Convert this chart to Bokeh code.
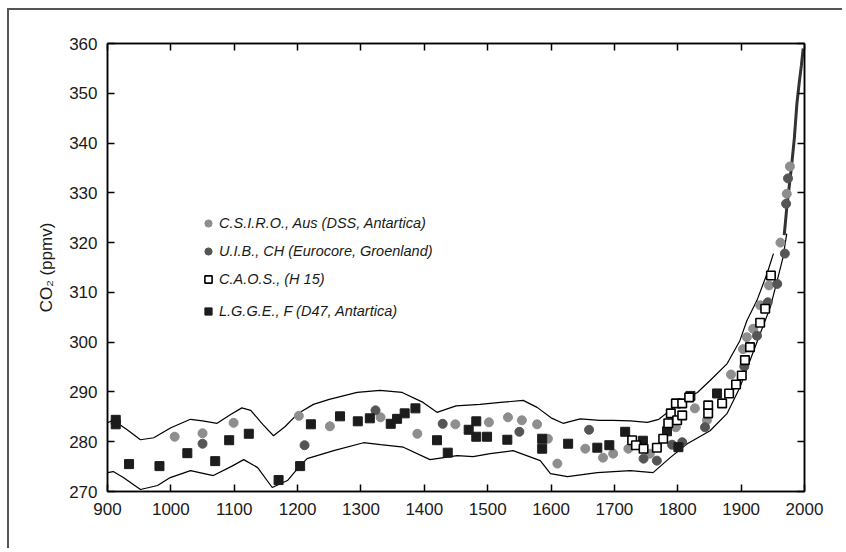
from bokeh.plotting import figure
from bokeh.models import LinearAxis, Range1d, FixedTicker, Legend, LegendItem
from bokeh.embed import file_html
from bokeh.resources import INLINE

# ---------------- data ----------------
upper_years = [900, 909, 930, 952, 973, 1000, 1031, 1050, 1073, 1095, 1112, 1126, 1145, 1162, 1180,
               1200, 1225, 1250, 1294, 1330, 1365, 1398, 1420, 1450, 1488, 1520, 1556, 1578, 1600,
               1619, 1646, 1677, 1698, 1725, 1752, 1770, 1788, 1800, 1831, 1851, 1878, 1898, 1909,
               1925, 1941, 1951]
upper_vals = [283.8, 284.3, 282.5, 280.4, 280.8, 282.8, 284.5, 284.2, 283.7, 285.5, 286.8, 286.3, 283.5,
              281.2, 283.0, 285.6, 287.5, 288.5, 289.9, 290.3, 289.9, 287.9, 285.9, 287.2, 287.5, 287.9,
              288.3, 286.9, 284.8, 283.7, 284.6, 284.3, 284.3, 284.2, 283.9, 284.5, 286.3, 287.7, 289.9,
              292.3, 295.7, 300.3, 304.3, 308.4, 313.8, 317.8]

lower_years = [900, 909, 925, 952, 979, 999, 1031, 1067, 1095, 1115, 1137, 1160, 1184, 1204, 1215,
               1257, 1304, 1331, 1367, 1409, 1452, 1477, 1504, 1540, 1583, 1599, 1626, 1673, 1725,
               1761, 1788, 1815, 1851, 1878, 1898, 1914, 1930, 1946, 1957, 1966, 1972]
lower_vals = [273.8, 274.0, 272.8, 270.4, 271.2, 272.8, 274.2, 273.2, 275.0, 276.4, 274.8, 270.8, 272.2,
              275.2, 276.6, 278.2, 279.8, 279.4, 278.9, 276.4, 277.2, 277.0, 277.6, 278.2, 276.2, 273.6,
              273.0, 273.8, 274.2, 273.8, 276.8, 279.6, 282.2, 285.7, 290.9, 296.3, 301.7, 307.0, 312.4,
              317.0, 321.8]

recent_years = [1968, 1972, 1977, 1980, 1984, 1988, 1992, 1995, 1998]
recent_vals = [321.5, 327.0, 332.5, 335.9, 341.0, 347.9, 352.5, 355.5, 359.0]

csiro_years = [1006, 1050, 1099, 1202, 1251, 1331, 1389, 1449, 1502, 1532, 1554, 1578, 1595, 1610,
               1654, 1682, 1698, 1722, 1756, 1797, 1827, 1846, 1884, 1903, 1909, 1919, 1930, 1944,
               1962, 1972, 1977]
csiro_vals = [281.0, 281.7, 283.8, 285.2, 283.1, 284.9, 281.6, 283.5, 283.9, 284.9, 284.3, 283.5, 280.6,
              275.6, 278.6, 276.8, 277.6, 278.6, 277.6, 282.9, 286.7, 284.3, 293.5, 298.6, 301.0, 302.7,
              307.4, 311.4, 320.0, 329.8, 335.3]

uib_years = [1050, 1211, 1323, 1429, 1550, 1660, 1746, 1767, 1791, 1807, 1843, 1905, 1925, 1942,
             1957, 1969, 1971, 1974]
uib_vals = [279.6, 279.3, 286.3, 283.6, 282.0, 282.4, 276.6, 276.2, 279.4, 279.9, 282.9, 295.1, 301.3,
            308.0, 311.7, 317.8, 327.8, 332.9]

caos_years = [1728, 1734, 1746, 1767, 1777, 1785, 1789, 1797, 1799, 1807, 1807, 1818, 1848, 1848,
              1870, 1881, 1892, 1901, 1906, 1914, 1930, 1938, 1947]
caos_vals = [280.3, 279.3, 278.6, 278.8, 280.6, 283.7, 285.7, 287.7, 284.3, 287.7, 285.3, 288.9, 287.3,
             285.7, 287.7, 289.7, 291.5, 293.3, 296.4, 299.0, 303.9, 306.7, 313.4]

lgge_years = [913, 913, 934, 982, 1026, 1070, 1092, 1123, 1170, 1204, 1221, 1267, 1295, 1314, 1347,
              1357, 1369, 1386, 1420, 1437, 1470, 1482, 1482, 1499, 1531, 1586, 1586, 1627, 1673,
              1692, 1717, 1745, 1783, 1801, 1820, 1862]
lgge_vals = [284.4, 283.5, 275.5, 275.1, 277.7, 276.1, 280.3, 281.6, 272.3, 275.1, 283.5, 285.1, 284.1,
             284.7, 283.6, 284.6, 285.7, 286.7, 280.3, 277.8, 282.4, 284.1, 281.0, 281.0, 280.4, 280.6,
             278.6, 279.6, 278.8, 279.3, 282.0, 280.2, 282.1, 278.9, 289.2, 289.7]

x_ticks = list(range(900, 2001, 100))
y_ticks = list(range(270, 361, 10))

labels = ["C.S.I.R.O., Aus (DSS, Antartica)",
          "U.I.B., CH (Eurocore, Groenland)",
          "C.A.O.S., (H 15)",
          "L.G.G.E., F (D47, Antartica)"]

# ---------------- figure ----------------
FONT = "Liberation Sans"
p = figure(width=835, height=540, output_backend="svg", toolbar_location=None,
           x_range=Range1d(900, 2000), y_range=Range1d(270, 360),
           min_border_left=98, min_border_right=40, min_border_top=33, min_border_bottom=59)
p.styles = {"margin-left": "7px", "margin-top": "8px",
            "border-left": "2px solid #555", "border-top": "2px solid #555"}
p.grid.visible = False
p.outline_line_color = "black"
p.outline_line_width = 1.5
p.background_fill_color = "white"
p.border_fill_color = "white"

for ax in (p.xaxis[0], p.yaxis[0]):
    ax.major_tick_in = 7
    ax.major_tick_out = 0
    ax.minor_tick_line_color = None
    ax.axis_line_width = 1.5
    ax.axis_line_color = "black"
    ax.major_tick_line_width = 1.5
    ax.major_label_text_font = FONT
    ax.major_label_text_font_size = "17px"
    ax.major_label_text_color = "#1a1a1a"

p.xaxis[0].ticker = FixedTicker(ticks=x_ticks)
p.yaxis[0].ticker = FixedTicker(ticks=y_ticks)
p.xaxis[0].major_label_standoff = 11
p.yaxis[0].major_label_standoff = 10
p.yaxis[0].axis_label = "CO₂ (ppmv)"
p.yaxis[0].axis_label_text_font = FONT
p.yaxis[0].axis_label_text_font_style = "normal"
p.yaxis[0].axis_label_text_font_size = "17px"
p.yaxis[0].axis_label_text_color = "#1a1a1a"
p.yaxis[0].axis_label_standoff = 10

top = LinearAxis(ticker=FixedTicker(ticks=x_ticks))
right = LinearAxis(ticker=FixedTicker(ticks=y_ticks))
for ax in (top, right):
    ax.major_tick_in = 7
    ax.major_tick_out = 0
    ax.minor_tick_line_color = None
    ax.axis_line_width = 1.5
    ax.major_tick_line_width = 1.5
    ax.major_label_text_color = None
    ax.major_label_text_font_size = "8px"
    ax.major_label_standoff = 0
p.add_layout(top, "above")
p.add_layout(right, "right")

# envelope
p.line(upper_years, upper_vals, line_color="black", line_width=1.2)
p.line(lower_years, lower_vals, line_color="black", line_width=1.2)
p.line(recent_years, recent_vals, line_color="#333333", line_width=3)

r_csiro = p.scatter(csiro_years, csiro_vals, marker="circle", size=9,
                    fill_color="#8e8e8e", line_color="#8e8e8e")
r_uib = p.scatter(uib_years, uib_vals, marker="circle", size=9,
                  fill_color="#555555", line_color="#555555")
r_lgge = p.scatter(lgge_years, lgge_vals, marker="square", size=9,
                   fill_color="#1c1c1c", line_color="#1c1c1c")
r_caos = p.scatter(caos_years, caos_vals, marker="square", size=8.5,
                   fill_color="white", line_color="black", line_width=1.6)

common = dict(glyph_width=18, glyph_height=18, label_height=20, spacing=8, padding=0, margin=0,
              label_standoff=2, border_line_color=None, background_fill_alpha=0,
              label_text_font=FONT, label_text_font_style="italic",
              label_text_font_size="14.5px", label_text_color="#1a1a1a")
leg1 = Legend(items=[LegendItem(label=labels[0], renderers=[r_csiro]),
                     LegendItem(label=labels[1], renderers=[r_uib]),
                     LegendItem(label=labels[2], renderers=[r_caos])],
              location=(92, 202), **common)
leg2 = Legend(items=[LegendItem(label=labels[3], renderers=[r_lgge])],
              location=(92, 170), **common)
p.add_layout(leg1)
p.add_layout(leg2)

open("out.html", "w").write(file_html(p, INLINE))
